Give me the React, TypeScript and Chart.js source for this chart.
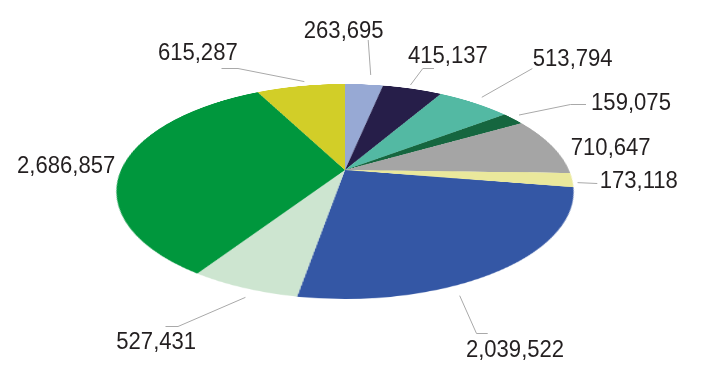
import { useEffect, useRef } from "react";
import { Chart, registerables } from "chart.js";

Chart.register(...registerables);

// ---- data ----
const categories = [
  "Category 1", "Category 2", "Category 3", "Category 4", "Category 5",
  "Category 6", "Category 7", "Category 8", "Category 9", "Category 10",
];
const values = [263695, 415137, 513794, 159075, 710647, 173118, 2039522, 527431, 2686857, 615287];
const colors = [
  "#97A9D4", "#261E49", "#53B9A3", "#15663F", "#A5A5A5",
  "#EAE89C", "#3457A5", "#CDE5D0", "#00973D", "#D2CE28",
];

// ---- layout (tilted pie & label placement) ----
const PIE_CX = 345;
const PIE_CY = 169.5;
const RADIUS = 224;
const TILT_DEG = 62.57;
const PERSPECTIVE = 994;
const CANVAS_SIZE = 460;
const FONT_SIZE = 23;
const FONT_STRETCH = 0.96;

// t: position within slice for the leader start; rf: radial factor;
// pts: leader points after the start; text: label centre
const labelLayout: { t: number; rf: number; pts: number[][]; text: number[] }[] = [
  { t: 0.61, rf: 1.13, pts: [[368.2, 40]], text: [343.7, 30] },
  { t: 0.43, rf: 1.04, pts: [[422.8, 68.5], [434, 68.5]], text: [447.9, 55] },
  { t: 0.48, rf: 1.08, pts: [[532.4, 68.5]], text: [572.7, 57.7] },
  { t: 0.4, rf: 1.05, pts: [[570.5, 104.5], [586, 104.5]], text: [631, 101.7] },
  { t: 0.5, rf: 1.0, pts: [], text: [610.7, 146.7] },
  { t: 0.7, rf: 1.02, pts: [[597.3, 183.5]], text: [638.8, 180] },
  { t: 0.64, rf: 1.065, pts: [[476.5, 333.5], [487.7, 333.5]], text: [515, 348.3] },
  { t: 0.42, rf: 1.055, pts: [[178, 326.5], [165.5, 326.5]], text: [156.2, 340.8] },
  { t: 0.5, rf: 1.0, pts: [], text: [66.2, 165] },
  { t: 0.56, rf: 1.05, pts: [[238, 68.5], [221.5, 68.5]], text: [197.8, 51.7] },
];

const SIN = Math.sin((TILT_DEG * Math.PI) / 180);
const COS = Math.cos((TILT_DEG * Math.PI) / 180);

function project(px: number, py: number): [number, number] {
  const z = py * SIN;
  const sc = PERSPECTIVE / (PERSPECTIVE - z);
  return [PIE_CX + px * sc, PIE_CY + py * COS * sc];
}

export default function App() {
  const pieRef = useRef<HTMLCanvasElement | null>(null);
  const overlayRef = useRef<HTMLCanvasElement | null>(null);

  useEffect(() => {
    const pie = pieRef.current;
    const overlay = overlayRef.current;
    if (!pie || !overlay) return;

    const labelPlugin = {
      id: "tiltedLabels",
      afterDraw(chart: any) {
        const ctx = overlay.getContext("2d");
        if (!ctx) return;
        ctx.clearRect(0, 0, overlay.width, overlay.height);
        const meta = chart.getDatasetMeta(0);
        meta.data.forEach((arc: any, i: number) => {
          const L = labelLayout[i];
          if (!L) return;
          const { startAngle, endAngle, outerRadius } = arc.getProps(
            ["startAngle", "endAngle", "outerRadius"],
            true
          );
          const th = startAngle + (endAngle - startAngle) * L.t;
          const r = outerRadius * L.rf;
          const start = project(r * Math.cos(th), r * Math.sin(th));
          if (L.pts.length) {
            ctx.beginPath();
            ctx.strokeStyle = "#A9A9A9";
            ctx.lineWidth = 1;
            ctx.moveTo(start[0], start[1]);
            L.pts.forEach((p) => ctx.lineTo(p[0], p[1]));
            ctx.stroke();
          }
          ctx.save();
          ctx.fillStyle = "#231F20";
          ctx.font = `${FONT_SIZE}px "Liberation Sans", Arial, sans-serif`;
          ctx.textAlign = "center";
          ctx.textBaseline = "alphabetic";
          ctx.translate(L.text[0], L.text[1] + 0.358 * FONT_SIZE);
          ctx.scale(FONT_STRETCH, 1);
          const label = values[i].toLocaleString("en-US");
          ctx.fillText(label, 0, 0);
          ctx.restore();
        });
      },
    };

    const chart = new Chart(pie, {
      type: "pie",
      data: {
        labels: categories,
        datasets: [
          {
            data: values,
            backgroundColor: colors,
            borderWidth: 0,
            hoverOffset: 0,
            radius: RADIUS,
          } as any,
        ],
      },
      options: {
        responsive: false,
        maintainAspectRatio: false,
        animation: false,
        layout: { padding: 0 },
        plugins: {
          legend: { display: false },
          tooltip: { enabled: false },
        },
      },
      plugins: [labelPlugin],
    });

    return () => {
      chart.destroy();
    };
  }, []);

  const half = CANVAS_SIZE / 2;
  return (
    <div
      style={{
        position: "fixed",
        left: 0,
        top: 0,
        width: 701,
        height: 386,
        background: "#ffffff",
        overflow: "hidden",
      }}
    >
      <canvas
        ref={pieRef}
        width={CANVAS_SIZE}
        height={CANVAS_SIZE}
        style={{
          position: "absolute",
          left: PIE_CX - half,
          top: PIE_CY - half,
          width: CANVAS_SIZE,
          height: CANVAS_SIZE,
          transformOrigin: `${half}px ${half}px`,
          transform: `perspective(${PERSPECTIVE}px) rotateX(${TILT_DEG}deg)`,
        }}
      />
      <canvas
        ref={overlayRef}
        width={701}
        height={386}
        style={{ position: "absolute", left: 0, top: 0, pointerEvents: "none" }}
      />
    </div>
  );
}
